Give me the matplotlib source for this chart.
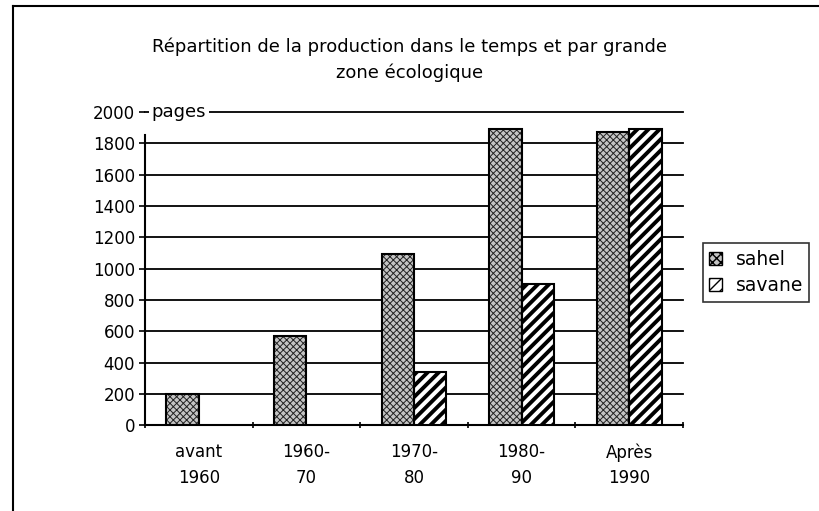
import numpy as np
import matplotlib
matplotlib.use('Agg')
import matplotlib.pyplot as plt
from matplotlib.lines import Line2D

plt.rcParams['font.family'] = 'DejaVu Sans'

# data
categories = ['avant\n1960', '1960-\n70', '1970-\n80', '1980-\n90', 'Après\n1990']
sahel = [200, 570, 1090, 1890, 1870]
savane = [0, 0, 340, 900, 1890]
yticks = [0, 200, 400, 600, 800, 1000, 1200, 1400, 1600, 1800, 2000]

fig = plt.figure(figsize=(8.19, 5.11), dpi=100)
ax = fig.add_axes([0.177, 0.168, 0.657, 0.613])

x = np.arange(len(categories))
w = 0.3

with plt.rc_context({'hatch.linewidth': 0.7}):
    ax.bar(x - w/2, sahel, w, color='#c4c4c4', edgecolor='#222222', hatch='xxxxx', linewidth=0, zorder=3)
with plt.rc_context({'hatch.linewidth': 2.8}):
    ax.bar(x + w/2, savane, w, color='white', edgecolor='black', hatch='///', linewidth=0, zorder=3)
# outlines
ax.bar(x - w/2, sahel, w, fill=False, edgecolor='black', linewidth=1.5, zorder=4)
ax.bar(x + w/2, [v if v > 0 else np.nan for v in savane], w, fill=False, edgecolor='black', linewidth=1.5, zorder=4)

ax.set_xlim(-0.5, len(categories) - 0.5)
ax.set_ylim(0, 2000)
ax.set_yticks(yticks)
ax.set_yticklabels([str(v) for v in yticks], fontsize=12)
ax.set_xticks(x)
ax.set_xticklabels(categories, fontsize=12, linespacing=1.55)
ax.tick_params(axis='x', length=0, pad=13)
ax.set_xticks(np.arange(len(categories) + 1) - 0.5, minor=True)
ax.tick_params(axis='x', which='minor', length=5, direction='inout', width=1.2)
ax.tick_params(axis='y', length=4, direction='out', width=1.2, pad=3)
ax.yaxis.grid(True, color='black', linewidth=1.3)
for gl in ax.get_ygridlines():
    gl.set_clip_on(False)
ax.set_axisbelow(True)
for s in ['top', 'right']:
    ax.spines[s].set_visible(False)
ax.spines['left'].set_linewidth(1.5)
ax.spines['bottom'].set_linewidth(1.5)
ax.spines['left'].set_bounds(0, 1850)

ax.text(0.012, 1.0, 'pages', transform=ax.transAxes, fontsize=13, va='center', ha='left',
        bbox=dict(facecolor='white', edgecolor='none', pad=2), zorder=5)

fig.text(0.5, 0.883, 'Répartition de la production dans le temps et par grande\nzone écologique',
         ha='center', va='center', fontsize=13, linespacing=1.5)

handles = [plt.Rectangle((0, 0), 1, 1, facecolor='#c4c4c4', edgecolor='black', hatch='xxxx'),
           plt.Rectangle((0, 0), 1, 1, facecolor='white', edgecolor='black', hatch='///')]
leg = fig.legend(handles, ['sahel', 'savane'], loc='upper left', bbox_to_anchor=(0.858, 0.524),
                 borderaxespad=0, fontsize=13.5, frameon=True, fancybox=False, handlelength=0.7,
                 handleheight=0.7, handletextpad=0.7, borderpad=0.35, labelspacing=0.4)
leg.get_frame().set_edgecolor('black')
leg.get_frame().set_linewidth(1.2)

# outer frame of the scanned chart
fig.add_artist(Line2D([0.016, 0.016], [0, 0.988], color='black', linewidth=1.5))
fig.add_artist(Line2D([0.016, 1.0], [0.988, 0.988], color='black', linewidth=1.5))

fig.savefig('out.png', dpi=100)
